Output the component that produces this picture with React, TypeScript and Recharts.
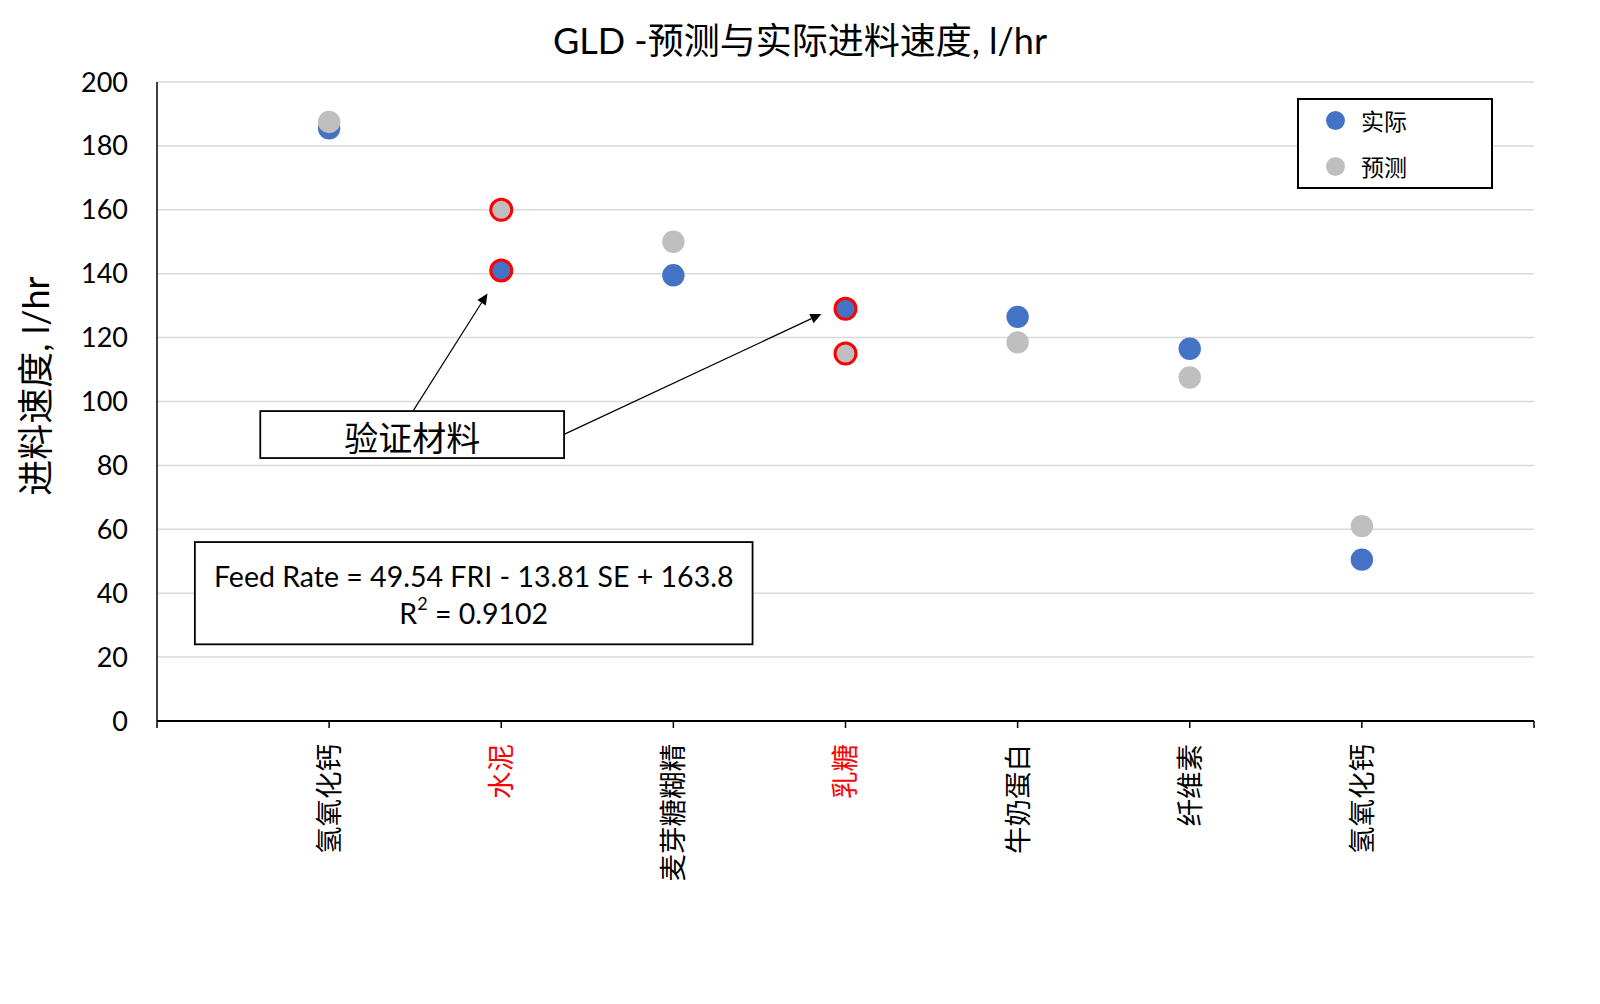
import React from "react";
import {
  ScatterChart,
  Scatter,
  XAxis,
  YAxis,
  CartesianGrid,
  Legend,
  ReferenceArea,
  ReferenceLine,
} from "recharts";

// 类别 (x 轴)
const categories = ["氢氧化钙", "水泥", "麦芽糖糊精", "乳糖", "牛奶蛋白", "纤维素", "氢氧化钙"];
// 验证材料 (红色标注)
const validationIdx = [1, 3];
// 实际 / 预测 进料速度, l/hr
const actualValues = [185.5, 141, 139.5, 129, 126.5, 116.5, 50.5];
const predictedValues = [187.5, 160, 150, 115, 118.5, 107.5, 61];
const yTicks = [0, 20, 40, 60, 80, 100, 120, 140, 160, 180, 200];
const xTicks = [0, 1, 2, 3, 4, 5, 6, 7, 8];

const BLUE = "#4472C4";
const GRAY = "#BFBFBF";
const RED = "#FF0000";
const LATIN = "Lato, 'Noto Sans CJK SC', sans-serif";
const CJK = "'Noto Sans CJK SC', sans-serif";

const toPoints = (values: number[]) =>
  values.map((v, i) => ({ x: i + 1, y: v, name: categories[i], highlight: validationIdx.includes(i) }));

const actualData = toPoints(actualValues);
const predictedData = toPoints(predictedValues);

// 注释框和箭头 (数据坐标)
const labelBox = { x1: 0.6, x2: 2.365, y1: 82.3, y2: 97 };
const eqBox = { x1: 0.22, x2: 3.46, y1: 24, y2: 56 };
const arrows = [
  [{ x: 1.487, y: 97 }, { x: 1.92, y: 133.8 }],
  [{ x: 2.365, y: 89.7 }, { x: 3.86, y: 127.4 }],
];

const makeDot = (color: string) => (props: any) => {
  const { cx, cy, payload } = props;
  if (cx == null || cy == null) return <g />;
  if (payload.highlight) {
    return <circle cx={cx} cy={cy} r={10.5} fill={color} stroke={RED} strokeWidth={3} />;
  }
  return <circle cx={cx} cy={cy} r={11.2} fill={color} />;
};

const XTick = (props: any) => {
  const { x, y, payload } = props;
  const v = payload.value;
  if (v < 1 || v > categories.length) return <g />;
  const red = validationIdx.includes(v - 1);
  const ty = y + 14;
  return (
    <text
      x={x}
      y={ty}
      dy="0.36em"
      transform={`rotate(-90, ${x}, ${ty})`}
      textAnchor="end"
      fontSize={27.5}
      fontFamily={CJK}
      fill={red ? RED : "#000"}
    >
      {categories[v - 1]}
    </text>
  );
};

const Arrow = (props: any) => {
  const { x1, y1, x2, y2 } = props;
  const a = Math.atan2(y2 - y1, x2 - x1);
  const len = 11;
  const w = 5;
  const bx = x2 - len * Math.cos(a);
  const by = y2 - len * Math.sin(a);
  const p1 = `${bx + w * Math.sin(a)},${by - w * Math.cos(a)}`;
  const p2 = `${bx - w * Math.sin(a)},${by + w * Math.cos(a)}`;
  return (
    <g>
      <line x1={x1} y1={y1} x2={bx} y2={by} stroke="#000" strokeWidth={1.2} />
      <polygon points={`${x2},${y2} ${p1} ${p2}`} fill="#000" />
    </g>
  );
};

const LabelBox = (props: any) => {
  const { x, y, width, height } = props;
  return (
    <g>
      <rect x={x} y={y} width={width} height={height} fill="#fff" stroke="#000" strokeWidth={1.8} />
      <text x={x + width / 2} y={y + height / 2 + 2} textAnchor="middle" dominantBaseline="central" fontSize={34} fontFamily={CJK} fill="#000">
        验证材料
      </text>
    </g>
  );
};

const EqBox = (props: any) => {
  const { x, y, width, height } = props;
  const cx = x + width / 2;
  return (
    <g fontFamily={LATIN} fontSize={28.5} fill="#000">
      <rect x={x} y={y} width={width} height={height} fill="#fff" stroke="#000" strokeWidth={1.8} />
      <text x={cx} y={y + 34} textAnchor="middle" dominantBaseline="central">
        Feed Rate = 49.54 FRI - 13.81 SE + 163.8
      </text>
      <text x={cx} y={y + 71} textAnchor="middle" dominantBaseline="central">
        R<tspan dy={-10} fontSize={18}>2</tspan>
        <tspan dy={10}> = 0.9102</tspan>
      </text>
    </g>
  );
};

const LegendBox = (props: any) => {
  const items = props.payload || [];
  return (
    <div style={{ width: 196, height: 91, border: "2px solid #000", boxSizing: "border-box", background: "#fff", position: "relative" }}>
      {items.map((it: any, i: number) => (
        <div key={i} style={{ position: "absolute", left: 27, top: 8 + i * 46, height: 24, display: "flex", alignItems: "center" }}>
          <span style={{ width: 19, height: 19, borderRadius: "50%", background: it.color, display: "inline-block" }} />
          <span style={{ marginLeft: 16, fontFamily: CJK, fontSize: 23, color: "#000" }}>{it.value}</span>
        </div>
      ))}
    </div>
  );
};

export default function App() {
  return (
    <div style={{ position: "relative", width: 1600, height: 1004, background: "#fff" }}>
      <style>{`body{margin:0}`}</style>
      <div
        style={{
          position: "absolute",
          left: 0,
          width: 1600,
          top: 17,
          textAlign: "center",
          fontFamily: LATIN,
          fontSize: 36,
          color: "#000",
          lineHeight: "46px",
        }}
      >
        GLD -预测与实际进料速度, l/hr
      </div>
      <div
        style={{
          position: "absolute",
          left: 33,
          top: 386,
          transform: "translate(-50%, -50%) rotate(-90deg)",
          whiteSpace: "nowrap",
          fontFamily: LATIN,
          fontSize: 36,
          color: "#000",
        }}
      >
        进料速度, l/hr
      </div>
      <ScatterChart width={1600} height={1004} margin={{ top: 82, right: 66, bottom: 83, left: 97 }}>
        <CartesianGrid vertical={false} stroke="#D9D9D9" strokeWidth={1.5} />
        <XAxis
          type="number"
          dataKey="x"
          domain={[0, 8]}
          ticks={xTicks}
          interval={0}
          height={200}
          axisLine={{ stroke: "#000", strokeWidth: 2 }}
          tickLine={{ stroke: "#000", strokeWidth: 1.5 }}
          tickSize={7}
          tick={<XTick />}
        />
        <YAxis
          type="number"
          dataKey="y"
          domain={[0, 200]}
          ticks={yTicks}
          interval={0}
          width={60}
          axisLine={{ stroke: "#000", strokeWidth: 1.5 }}
          tickLine={false}
          tickSize={0}
          tickMargin={29}
          tick={{ fill: "#000", fontSize: 27, fontFamily: LATIN }}
        />
        <ReferenceArea {...labelBox} shape={LabelBox} />
        <ReferenceArea {...eqBox} shape={EqBox} />
        {arrows.map((seg, i) => (
          <ReferenceLine key={i} segment={seg} shape={Arrow} />
        ))}
        <Scatter name="实际" data={actualData} fill={BLUE} shape={makeDot(BLUE)} isAnimationActive={false} />
        <Scatter name="预测" data={predictedData} fill={GRAY} shape={makeDot(GRAY)} isAnimationActive={false} />
        <Legend
          layout="vertical"
          align="center"
          verticalAlign="middle"
          wrapperStyle={{ top: 98, left: 1297, width: 196, height: 91 }}
          content={LegendBox}
        />
      </ScatterChart>
    </div>
  );
}
